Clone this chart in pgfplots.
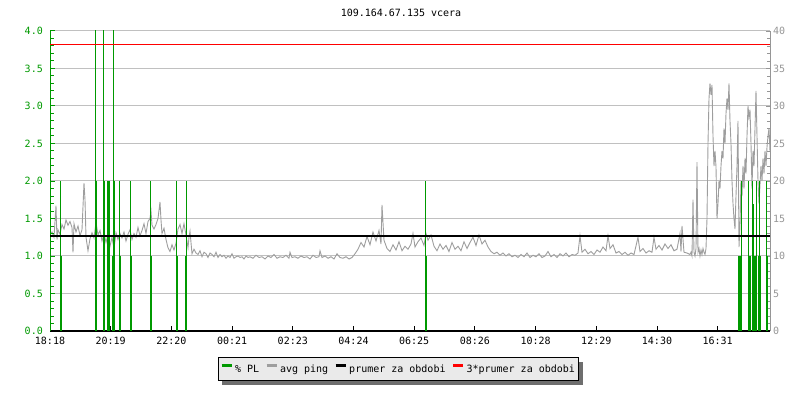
\documentclass[border=0pt]{standalone}
\usepackage{fontspec}
\setmainfont{DejaVu Sans Mono}
\usepackage{pgfplots}
\pgfplotsset{compat=1.18}
\usetikzlibrary{shadows}
\definecolor{plgreen}{RGB}{0,153,0}
\definecolor{pinggray}{RGB}{158,158,158}
\definecolor{gridgray}{RGB}{192,192,192}
\definecolor{rlabel}{RGB}{150,150,150}
\definecolor{legfill}{RGB}{234,234,234}
\definecolor{shadowgray}{RGB}{110,110,110}
\begin{document}
\begin{tikzpicture}[font=\fontsize{10bp}{12bp}\selectfont]
% right axis: avg ping in ms
\begin{axis}[
  scale only axis, width=720bp, height=300bp,
  xmin=0, xmax=720, ymin=0, ymax=40,
  axis x line=none, axis y line*=right,
  ytick={0,5,...,40}, minor y tick num=4,
  tick align=inside, major tick length=4bp, minor tick length=3bp,
  ytick style={color=rlabel, line width=0.8bp},
  y axis line style={color=rlabel, line width=1bp},
  yticklabel style={text=rlabel, inner sep=0pt, anchor=west, xshift=3bp},
  ymajorgrids, major grid style={color=gridgray, line width=1bp},
  /pgf/number format/assume math mode=true,
]
\addplot[pinggray, line width=0.9bp, sharp plot] coordinates {
(0,12.8)(2,13.2)(4,12.5)(6,16.7)(7,12.2)(8,13.5)(10,12.9)(12,14.2)(14,13.6)(16,14.8)
(18,14.1)(20,14.6)(22,13.8)(23,10.5)(24,14.3)(26,13.2)(28,14.0)(30,12.7)(32,13.5)(34,19.7)
(35,17.5)(36,12.5)(38,10.7)(40,12.3)(42,13.1)(44,12.4)(46,14.5)(48,12.8)(50,13.4)(52,12.0)
(54,13.0)(56,11.8)(58,12.9)(60,11.3)(62,12.5)(64,11.0)(66,13.1)(68,12.2)(70,13.0)(72,12.4)
(74,13.2)(76,12.0)(78,12.9)(80,13.5)(82,12.2)(84,13.0)(86,12.5)(88,13.8)(90,12.7)(92,13.4)
(94,14.3)(96,13.0)(98,14.6)(100,15.0)(101,16.0)(102,14.1)(104,13.6)(106,14.2)(108,15.0)(110,17.2)
(111,14.8)(112,13.0)(114,13.7)(116,12.2)(118,11.1)(120,10.6)(122,11.5)(124,10.8)(126,11.7)(128,13.6)
(130,14.2)(132,13.0)(134,14.3)(136,12.8)(138,11.1)(139,12.5)(140,13.3)(142,10.3)(144,10.9)(146,10.4)
(148,10.2)(150,10.7)(152,9.9)(154,10.5)(156,10.3)(158,9.8)(160,10.4)(162,10.2)(164,9.9)(166,10.5)
(168,9.8)(170,10.2)(172,9.9)(174,10.1)(176,9.7)(178,10.0)(180,9.8)(182,10.3)(184,9.7)(186,9.9)
(188,10.0)(190,9.8)(192,9.9)(194,9.6)(196,10.0)(198,9.8)
(200,9.9)(203,9.7)(206,10.1)(209,9.8)(212,9.9)(215,9.6)(218,10.0)(221,9.8)(224,10.2)(227,9.7)
(230,9.9)(233,9.8)(236,10.1)(239,9.7)(240,10.5)(242,9.8)(245,9.9)(248,9.7)(251,10.0)(254,9.8)
(257,9.9)(260,9.6)(263,10.1)(266,9.8)(269,9.9)(270,10.7)(272,9.8)(275,10.0)(278,9.7)(281,9.9)
(284,9.6)(287,10.3)(290,9.8)(293,9.7)(296,9.9)(299,9.6)(302,9.8)(305,10.3)(308,10.9)(311,11.8)
(314,11.2)(317,12.6)(320,11.5)(323,13.2)(326,12.0)(329,13.4)(331,11.6)(332,16.8)(334,12.1)(337,11.0)
(340,10.6)(343,11.5)(346,10.8)(349,11.9)(352,10.7)(355,11.3)(358,10.9)(361,11.6)(363,13.0)(365,11.2)
(368,11.9)(371,12.4)(374,11.4)(376,13.0)(378,12.1)(381,12.8)(384,11.3)(387,10.7)(390,11.6)(393,10.9)
(396,11.4)(399,10.6)(402,11.8)(405,10.9)(408,11.3)(411,10.7)(414,11.9)(417,11.0)(420,11.8)(423,12.5)
(426,11.4)(429,12.8)(432,11.6)(435,12.1)(438,11.2)(441,10.6)(444,10.3)(447,10.5)(450,10.1)(453,10.4)
(456,10.0)(459,10.3)(462,9.9)(465,10.1)(468,9.8)(471,10.2)(474,9.9)(477,10.4)(480,9.8)(483,10.1)
(486,9.9)(489,10.3)(492,9.8)(495,10.0)(498,10.6)(501,9.9)(504,10.2)(507,9.8)(510,10.3)(513,10.0)
(516,10.4)(519,9.9)(522,10.2)(525,10.1)(528,10.4)(530,12.7)(532,10.5)(535,10.9)(538,10.3)(541,10.6)
(544,10.2)(547,10.8)(550,10.5)(553,11.2)(556,10.7)(558,12.7)(560,11.0)(563,11.5)(566,10.4)(569,10.6)
(572,10.2)(575,10.5)(578,10.1)(581,10.4)(584,10.2)(588,12.5)(590,10.6)(593,11.0)(596,10.4)(599,10.7)
(602,10.5)(604,12.5)(606,10.9)(609,11.4)(612,10.8)(615,11.6)(618,11.0)(621,11.5)(624,10.7)(627,10.9)
(630,13.0)(631,10.6)(632,14.0)(634,10.5)(637,10.4)
(640,10.2)(641,10.5)(642,10.0)(643,17.5)(644,10.5)(645,10.0)(646,11.0)(647,22.5)(648,10.5)(649,11.0)
(650,10.0)(651,10.8)(652,10.2)(653,11.0)(654,10.5)(655,10.2)(656,11.0)(657,15.0)(658,25.0)(659,31.0)
(660,33.0)(661,31.5)(662,32.8)(663,26.0)(664,22.0)(665,24.0)(666,21.9)(667,15.0)(668,17.0)(669,20.0)
(670,19.0)(671,22.0)(672,24.0)(673,23.0)(674,27.0)(675,25.0)(676,29.0)(677,31.0)(678,29.5)(679,33.0)
(680,28.0)(681,25.0)(682,20.0)(683,17.0)(684,15.0)(685,13.6)(686,18.0)(687,22.0)(688,28.0)(689,11.2)
(690,14.0)(691,20.0)(692,18.0)(693,22.0)(694,19.0)(695,23.0)(696,21.0)(697,26.0)(698,30.0)(699,28.5)
(700,29.5)(701,25.0)(702,19.0)(703,24.0)(704,22.0)(705,27.0)(706,32.0)(707,26.0)(708,20.0)(709,17.0)
(710,19.5)(711,22.0)(712,20.0)(713,23.0)(714,21.0)(715,24.0)(716,22.0)(717,24.5)(718,26.0)(719,27.0)
(720,24.0)
};
\end{axis}
% left axis: packet loss and averages
\begin{axis}[
  scale only axis, width=720bp, height=300bp,
  xmin=0, xmax=720, ymin=0, ymax=4,
  axis x line*=bottom, axis y line*=left,
  xtick={0,60.7,121.4,182.1,242.8,303.5,364.2,424.9,485.6,546.3,607,667.7},
  xticklabels={18:18,20:19,22:20,00:21,02:23,04:24,06:25,08:26,10:28,12:29,14:30,16:31},
  ytick={0,0.5,...,4}, minor y tick num=4,
  tick align=inside, major tick length=5bp, minor tick length=4bp,
  xtick style={color=black, line width=1bp},
  ytick style={color=plgreen, line width=1bp},
  x axis line style={black, line width=1.5bp},
  y axis line style={plgreen, line width=1bp},
  xticklabel style={inner sep=0pt, anchor=north, yshift=-6bp},
  yticklabel style={text=plgreen, inner sep=0pt, anchor=east, xshift=-7bp},
  /pgf/number format/.cd, fixed, fixed zerofill, precision=1, assume math mode=true,
  /pgfplots/.cd,
  title={109.164.67.135 vcera},
  title style={at={(0.4875,1)}, anchor=base, inner sep=0pt, yshift=9bp},
  legend columns=4,
  legend image code/.code={\begin{scope}[#1]\pgfsetlinewidth{3bp}\pgfpathmoveto{\pgfpoint{0bp}{3.5bp}}\pgfpathlineto{\pgfpoint{10bp}{3.5bp}}\pgfusepath{stroke}\end{scope}},
  legend style={at={(0.484,-0.088)}, anchor=north, fill=legfill, draw=black, line width=1bp,
    inner xsep=2bp, inner ysep=5bp,
    /tikz/every even column/.append style={column sep=4bp},
    /tikz/every odd column/.append style={column sep=0bp},
    drop shadow={shadow xshift=4bp, shadow yshift=-4bp, fill=shadowgray, opacity=1}},
]
\coordinate (bl) at (rel axis cs:0,0);
\addlegendimage{plgreen}\addlegendentry{\% PL}
\addlegendimage{pinggray}\addlegendentry{avg ping}
\addlegendimage{black}\addlegendentry{prumer za obdobi}
\addlegendimage{red}\addlegendentry{3*prumer za obdobi}
\addplot[plgreen, ycomb, line width=1bp, forget plot] coordinates {
(10.5,2)(11.5,1)
(45.5,4.5)(46.5,2)
(53.5,4.5)(54.5,2)
(57.5,2)(58.5,2)(59.5,2)
(62.5,1)(63.5,4.5)(64.5,2)
(69.5,2)(70.5,1)
(80.5,2)(81.5,1)
(100.5,2)(101.5,1)
(126.5,2)(127.5,1)
(135.5,1)(136.5,2)
(375.5,2)(376.5,1)
(688.5,1)(689.5,1)(690.5,1)(691.5,2)
(698.5,2)(699.5,1)(700.5,1)
(702.5,2)(703.5,1.7)(704.5,1)(705.5,1)(706.5,2)
(708.5,1)(709.5,2)(710.5,1)
(716.5,2)(717.5,1)
};
\addplot[black, line width=2.2bp, forget plot] coordinates {(0,1.272)(720,1.272)};
\addplot[red, line width=1bp, forget plot] coordinates {(0,3.816)(720,3.816)};
\end{axis}
\pgfresetboundingbox
\path ([shift={(-50bp,-69bp)}]bl) rectangle ([shift={(750bp,331bp)}]bl);
\end{tikzpicture}
\end{document}
